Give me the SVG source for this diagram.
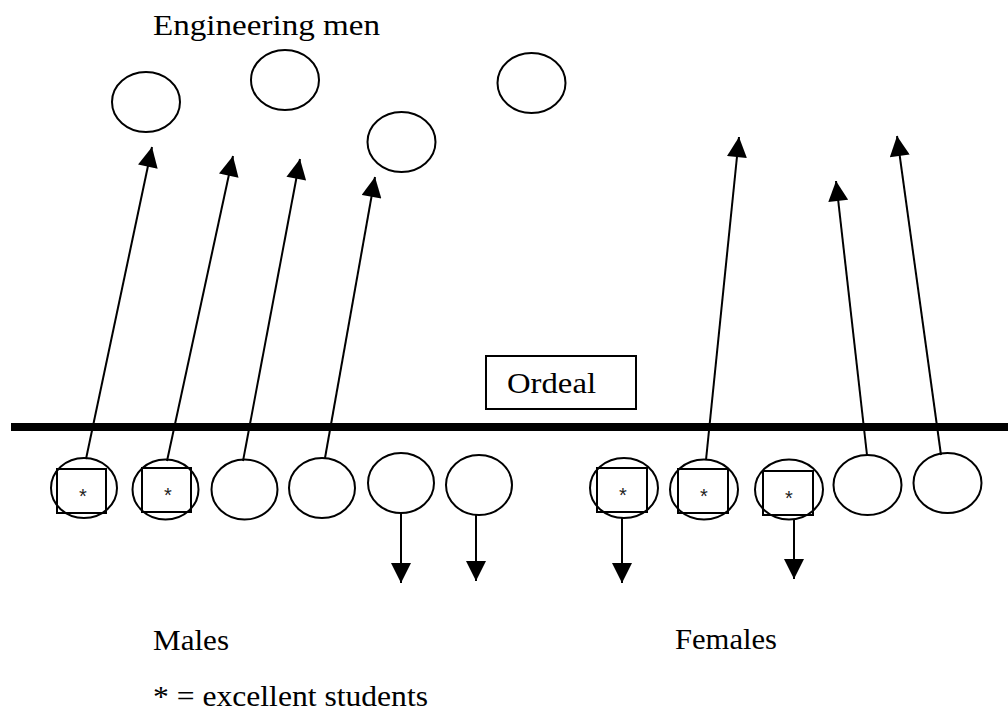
<svg xmlns="http://www.w3.org/2000/svg" width="1008" height="722" viewBox="0 0 1008 722">
<style>
.n{fill:none;stroke:#000;stroke-width:2}
.sq{fill:none;stroke:#000;stroke-width:2}
.lbl{font-family:"Liberation Serif","Times New Roman",serif;font-size:29px;fill:#000}
.ast{font-family:"Liberation Sans",Arial,sans-serif;font-size:20px;fill:#222;text-anchor:middle}
.c{stroke:#000;stroke-width:2;fill:none;marker-end:url(#ah)}
</style>
<defs>
<marker id="ah" viewBox="0 0 20 20" refX="20" refY="10" markerWidth="21" markerHeight="20" markerUnits="userSpaceOnUse" orient="auto">
<path d="M0,0 L20,10 L0,20 Z" fill="#000"/>
</marker>
</defs>
<rect width="1008" height="722" fill="#fff"/>
<text class="lbl" x="153" y="35" textLength="227" lengthAdjust="spacingAndGlyphs">Engineering men</text>
<g id="top1"><ellipse class="n" cx="146" cy="102" rx="34" ry="30"/></g>
<g id="top2"><ellipse class="n" cx="285" cy="80" rx="34" ry="30"/></g>
<g id="top3"><ellipse class="n" cx="401.5" cy="142" rx="34" ry="30"/></g>
<g id="top4"><ellipse class="n" cx="531.5" cy="83" rx="34" ry="30"/></g>
<g id="ordeal">
<rect x="486" y="356" width="150" height="53" fill="none" stroke="#000" stroke-width="2"/>
<text class="lbl" x="507" y="393" textLength="89" lengthAdjust="spacingAndGlyphs">Ordeal</text>
</g>
<g id="bar"><line x1="11" y1="427" x2="1008" y2="427" stroke="#000" stroke-width="8"/></g>
<g id="m1"><ellipse class="n" cx="84" cy="488" rx="33" ry="30"/><rect class="sq" x="57" y="469" width="49" height="44"/><text class="ast" x="83" y="503">*</text></g>
<g id="m2"><ellipse class="n" cx="165.5" cy="489.5" rx="33" ry="30"/><rect class="sq" x="142" y="468" width="49" height="44"/><text class="ast" x="168" y="502">*</text></g>
<g id="m3"><ellipse class="n" cx="244.5" cy="489.5" rx="33" ry="30"/></g>
<g id="m4"><ellipse class="n" cx="322" cy="488" rx="33" ry="30"/></g>
<g id="m5"><ellipse class="n" cx="401" cy="483" rx="33" ry="30"/></g>
<g id="m6"><ellipse class="n" cx="479" cy="485" rx="33" ry="30"/></g>
<g id="f1"><ellipse class="n" cx="624" cy="488" rx="34" ry="30"/><rect class="sq" x="597" y="468" width="50" height="44"/><text class="ast" x="623" y="502">*</text></g>
<g id="f2"><ellipse class="n" cx="704" cy="489.5" rx="34" ry="30"/><rect class="sq" x="678" y="469" width="50" height="44"/><text class="ast" x="704" y="503">*</text></g>
<g id="f3"><ellipse class="n" cx="789" cy="489.5" rx="34" ry="30"/><rect class="sq" x="763" y="471" width="50" height="44"/><text class="ast" x="789" y="505">*</text></g>
<g id="f4"><ellipse class="n" cx="867.5" cy="485" rx="34" ry="30"/></g>
<g id="f5"><ellipse class="n" cx="947.5" cy="483" rx="34" ry="30"/></g>
<g id="connectors">
<line class="c" x1="86" y1="459" x2="152" y2="147"/>
<line class="c" x1="167" y1="461" x2="233" y2="156"/>
<line class="c" x1="243" y1="461" x2="300" y2="159"/>
<line class="c" x1="325" y1="458" x2="375" y2="177"/>
<line class="c" x1="706" y1="460" x2="739" y2="137"/>
<line class="c" x1="867" y1="455" x2="836" y2="181"/>
<line class="c" x1="941" y1="455" x2="897" y2="136"/>
<line class="c" x1="401" y1="513" x2="401" y2="583"/>
<line class="c" x1="476" y1="515" x2="476" y2="581"/>
<line class="c" x1="622" y1="518" x2="622" y2="583"/>
<line class="c" x1="794" y1="520" x2="794" y2="579"/>
</g>
<text class="lbl" x="153" y="650" textLength="76" lengthAdjust="spacingAndGlyphs">Males</text>
<text class="lbl" x="675" y="649" textLength="102" lengthAdjust="spacingAndGlyphs">Females</text>
<text class="lbl" x="153" y="706" textLength="275" lengthAdjust="spacingAndGlyphs">* = excellent students</text>
</svg>
